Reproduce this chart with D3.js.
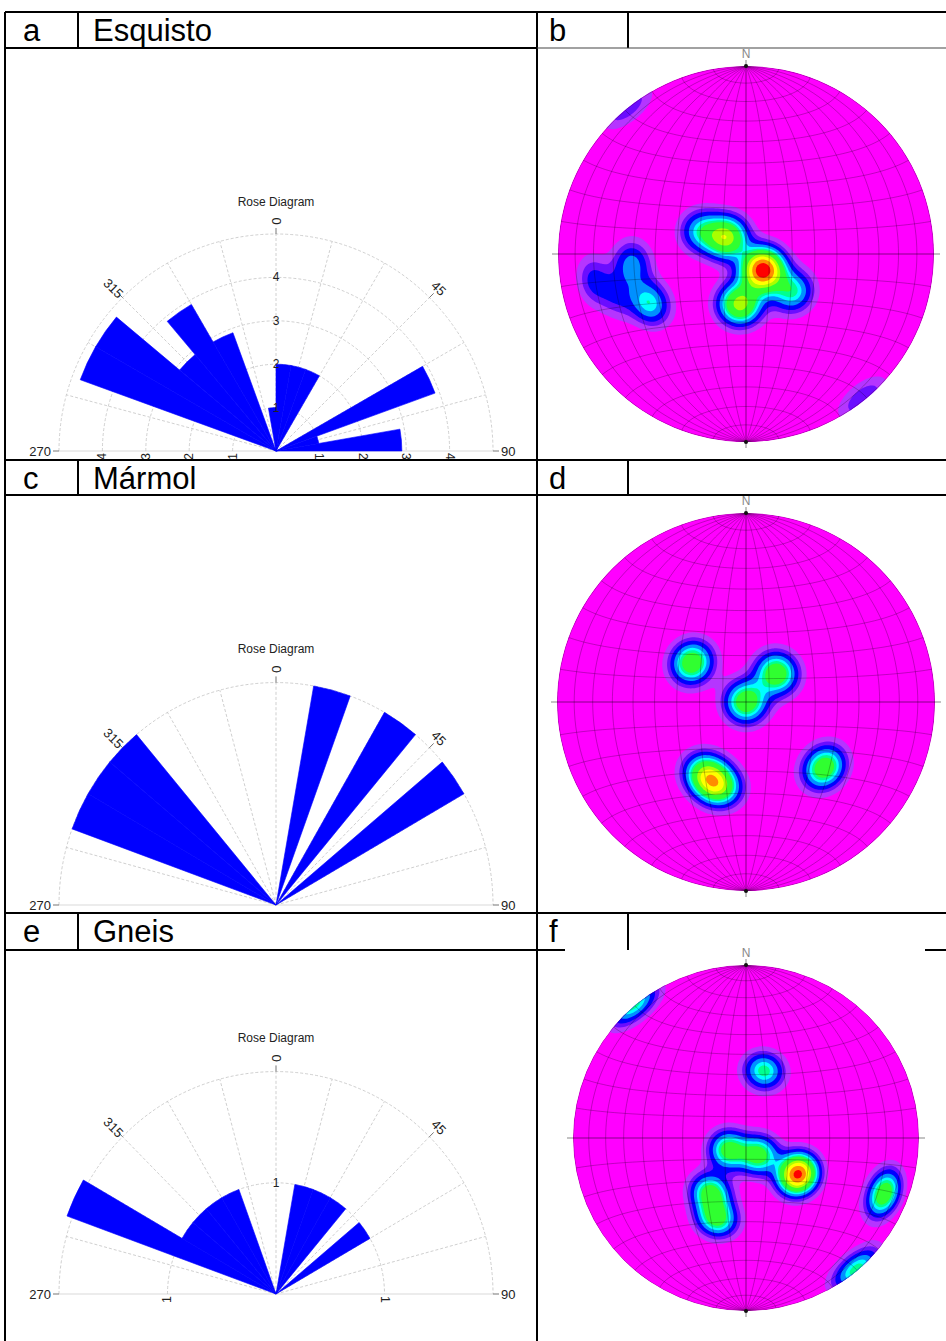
<!DOCTYPE html>
<html>
<head>
<meta charset="utf-8">
<script src="https://cdn.jsdelivr.net/npm/d3@7"></script>
<style>
body{margin:0;background:#fff;}
svg{display:block;font-family:"Liberation Sans",Arial,sans-serif;}
</style>
</head>
<body>
<svg id="fig" width="946" height="1341"></svg>
<script>
// ---------- data ----------
const panelLetters = [['a','b'],['c','d'],['e','f']];
const rockNames = ['Esquisto','Mármol','Gneis'];

// rose diagrams: start azimuth of each 10° bin and its value
const roseAzA  = [290,300,310,320,330,350,0,10,20,60,70,80];
const roseValA = [4.8,4.8,2.9,3.9,2.9,1,2,2,2,3.9,1,2.9];
const roseAzC  = [290,300,310,10,30,50];
const roseValC = [1,1,1,1,1,1];
const roseAzE  = [290,300,310,320,330,10,20,30,50];
const roseValE = [2.05,1,1,1,1,1,1,1,1];
const roseMax   = [5,1,2];
const roseRings = [[1,2,3,4],[],[1]];
const roseAngleLabels = [0,315,45,270,90];
const roseSpokes = [285,300,315,330,345,0,15,30,45,60,75];

// poles for the density nets: [trend, plunge, weight]
const polesB = [[310,79,1.2],[297,68,0.6],[133,80,2.0],[187,68,1.2],[129,64,0.7],
                [243,42,0.66],[265,39,0.5],[260,19,0.34],[252,29,0.28],[141,1,0.3]];
const polesD = [[306,61,1.0],[47,72,1.0],[0,90,1.0],[209,54,1.0],[198,51,1.0],[130,45,1.0]];
const polesF = [[140,1,0.75],[15,57,0.75],[236,80,0.9],[143,80,0.9],[125,60,1.9],
                [213,59,0.9],[200,49,0.9],[112,15,1.0]];

// density contour levels and their colours
const densityLevels = [0.1,0.2,0.3,0.44,0.58,0.68,0.78,1.1,1.3,1.55,1.8];
const densityColors = ['#b535ff','#6a0dff','#0000ff','#0090ff','#00ffff','#00ff90',
                       '#30ff30','#aaff00','#ffff00','#ff8c00','#ff0000'];

// ---------- layout ----------
const svg = d3.select('#fig');
const RAD = Math.PI/180;
const headTop = [12,460,913];
const headBot = [48,495,950];

// table
const lines = svg.append('g').attr('stroke','#000').attr('stroke-width',2);
function ln(x1,y1,x2,y2){ lines.append('line').attr('x1',x1).attr('y1',y1).attr('x2',x2).attr('y2',y2); }
headTop.forEach((t,i)=>{
  ln(5,t,946,t);
  if(i<2) ln(5,headBot[i],i==0?537:946,headBot[i]);
  ln(78,t,78,headBot[i]); ln(628,t,628,headBot[i]);
});
ln(5,950,565,950); ln(925,950,946,950);
svg.append('line').attr('x1',537).attr('x2',946).attr('y1',48).attr('y2',48)
  .attr('stroke','#444').attr('stroke-width',1.2);
ln(5,12,5,1341); ln(537,12,537,1341);

headTop.forEach((t,i)=>{
  const g = svg.append('g').attr('font-size',31).attr('fill','#000');
  g.append('text').attr('x',23).attr('y',t+29).text(panelLetters[i][0]);
  g.append('text').attr('x',93).attr('y',t+29).text(rockNames[i]);
  g.append('text').attr('x',549).attr('y',t+29).text(panelLetters[i][1]);
});

// ---------- rose diagrams ----------
const roseData = [[roseAzA,roseValA],[roseAzC,roseValC],[roseAzE,roseValE]];
const roseCy = [451,905,1294];
const roseSy = [1,1.025,1.025];
const titleY = [202,649,1038];
const R = 217;

roseData.forEach(([az,val],k)=>{
  const cy = roseCy[k];
  svg.append('text').attr('x',276).attr('y',titleY[k]).attr('text-anchor','middle')
    .attr('dominant-baseline','central').attr('font-size',12).attr('fill','#222').text('Rose Diagram');
  const g = svg.append('g').attr('transform',`translate(276,${cy}) scale(1,${roseSy[k]})`);
  const r = d3.scaleLinear().domain([0,roseMax[k]]).range([0,R]);

  const grid = g.append('g').attr('fill','none').attr('stroke','#c4c4c4').attr('stroke-width',0.8);
  roseRings[k].concat([roseMax[k]]).forEach(v=>{
    const rr = r(v);
    grid.append('path').attr('d',`M${-rr},0A${rr},${rr} 0 0 1 ${rr},0`).attr('stroke-dasharray','3,2');
  });
  roseSpokes.forEach(a=>{
    grid.append('line').attr('x2',R*Math.sin(a*RAD)).attr('y2',-R*Math.cos(a*RAD)).attr('stroke-dasharray','3,2');
  });
  grid.append('line').attr('x1',-R).attr('x2',R).attr('stroke','#d0d0d0');

  const arc = d3.arc().innerRadius(0).outerRadius(d=>r(d.v))
    .startAngle(d=>d.a*RAD).endAngle(d=>(d.a+10)*RAD);
  g.append('g').selectAll('path').data(az.map((a,i)=>({a:a,v:val[i]})))
    .join('path').attr('d',arc).attr('fill','#0000ff')
    .attr('stroke','#0000ff').attr('stroke-width',0.6).attr('stroke-linejoin','round');

  // ring labels on the 0° line and along the base
  roseRings[k].forEach(v=>{
    g.append('text').attr('x',0).attr('y',-r(v)).attr('text-anchor','middle')
      .attr('dominant-baseline','central').attr('font-size',12).attr('fill','#222').text(v);
    g.append('text').attr('transform',`translate(${-r(v)},2) rotate(-90)`).attr('text-anchor','end')
      .attr('dominant-baseline','central').attr('font-size',12).attr('fill','#222').text(v);
    g.append('text').attr('transform',`translate(${r(v)},2) rotate(90)`).attr('text-anchor','start')
      .attr('dominant-baseline','central').attr('font-size',12).attr('fill','#222').text(v);
  });

  // azimuth labels
  roseAngleLabels.forEach(a=>{
    const s = Math.sin(a*RAD), c = Math.cos(a*RAD);
    g.append('line').attr('x1',R*s).attr('y1',-R*c).attr('x2',(R+6)*s).attr('y2',-(R+6)*c)
      .attr('stroke','#555').attr('stroke-width',0.8);
    if(a==270 || a==90){
      g.append('text').attr('x',(R+8)*s).attr('y',0).attr('text-anchor',a==270?'end':'start')
        .attr('dominant-baseline','central').attr('font-size',13).attr('fill','#222').text(a);
    } else {
      const rot = a>180 ? a-270 : 90-a;
      g.append('text').attr('transform',`translate(${(R+13)*s},${-(R+13)*c}) rotate(${rot})`)
        .attr('text-anchor','middle').attr('dominant-baseline','central')
        .attr('font-size',13).attr('fill','#222').text(a);
    }
  });
});

// ---------- equal-area density nets ----------
const netCy = [254,702,1138];
const netR = [188,189,173];
const netPoles = [polesB,polesD,polesF];
const NG = 180, KAPPA = 90;

function proj(e,n,d,rr){
  if(d<0){ e=-e; n=-n; d=-d; }
  const th = Math.acos(Math.min(1,d));
  const r = Math.SQRT2*Math.sin(th/2)*rr;
  const h = Math.hypot(e,n);
  return h<1e-12 ? [0,0] : [r*e/h,-r*n/h];
}

netPoles.forEach((poles,k)=>{
  const cx = 746, cy = netCy[k], rr = netR[k];
  const vec = poles.map(([t,p,w])=>[Math.cos(p*RAD)*Math.sin(t*RAD),Math.cos(p*RAD)*Math.cos(t*RAD),Math.sin(p*RAD),w]);
  const values = new Float64Array(NG*NG);
  for(let j=0;j<NG;j++) for(let i=0;i<NG;i++){
    const x = (i+0.5)/NG*2-1, y = (j+0.5)/NG*2-1;
    const hr = Math.hypot(x,y) || 1e-9;
    const th = 2*Math.asin(Math.min(1,hr)/Math.SQRT2);
    const e = Math.sin(th)*x/hr, n = -Math.sin(th)*y/hr, d = Math.cos(th);
    let s = 0;
    vec.forEach(v=>{ s += v[3]*Math.exp(KAPPA*(Math.abs(e*v[0]+n*v[1]+d*v[2])-1)); });
    values[j*NG+i] = s;
  }
  const contours = d3.contours().size([NG,NG]).thresholds(densityLevels)(values);
  const path = d3.geoPath(d3.geoIdentity().scale(2*rr/NG).translate([cx-rr,cy-rr]));

  const clipId = 'clip'+k;
  svg.append('clipPath').attr('id',clipId).append('circle').attr('cx',cx).attr('cy',cy).attr('r',rr);
  const g = svg.append('g').attr('clip-path',`url(#${clipId})`);
  g.append('circle').attr('cx',cx).attr('cy',cy).attr('r',rr).attr('fill','#ff00ff');
  g.selectAll('path.c').data(contours).join('path').attr('class','c')
    .attr('d',path).attr('fill',(d,i)=>densityColors[i]);

  // net: great circles through N-S and small circles about N-S axis
  const line = d3.line().x(p=>cx+p[0]).y(p=>cy+p[1]);
  const net = g.append('g').attr('fill','none').attr('stroke','rgba(0,0,0,0.42)').attr('stroke-width',0.6);
  const steps = d3.range(0,180.01,2);
  d3.range(10,81,10).forEach(dip=>{
    [1,-1].forEach(sg=>{
      net.append('path').attr('d',line(steps.map(f=>proj(sg*Math.sin(f*RAD)*Math.cos(dip*RAD),Math.cos(f*RAD),Math.sin(f*RAD)*Math.sin(dip*RAD),rr))));
    });
  });
  d3.range(10,171,10).filter(a=>a!=90).forEach(a=>{
    net.append('path').attr('d',line(steps.map(f=>proj(Math.sin(a*RAD)*Math.cos(f*RAD),Math.cos(a*RAD),Math.sin(a*RAD)*Math.sin(f*RAD),rr))));
  });
  g.append('circle').attr('cx',cx).attr('cy',cy).attr('r',rr-0.3).attr('fill','none')
    .attr('stroke','rgba(90,0,90,0.5)').attr('stroke-width',0.8);

  const axes = svg.append('g').attr('stroke','rgba(0,0,0,0.6)').attr('stroke-width',0.8);
  axes.append('line').attr('x1',cx-rr-6).attr('x2',cx+rr+6).attr('y1',cy).attr('y2',cy);
  axes.append('line').attr('x1',cx).attr('x2',cx).attr('y1',cy-rr-6).attr('y2',cy+rr+6);
  [-1,1].forEach(s=>{
    svg.append('circle').attr('cx',cx).attr('cy',cy+s*rr).attr('r',2).attr('fill','#111');
  });
  svg.append('text').attr('x',cx).attr('y',cy-rr-12).attr('text-anchor','middle')
    .attr('dominant-baseline','central').attr('font-size',12).attr('fill','#888').text('N');
});
</script>
</body>
</html>
